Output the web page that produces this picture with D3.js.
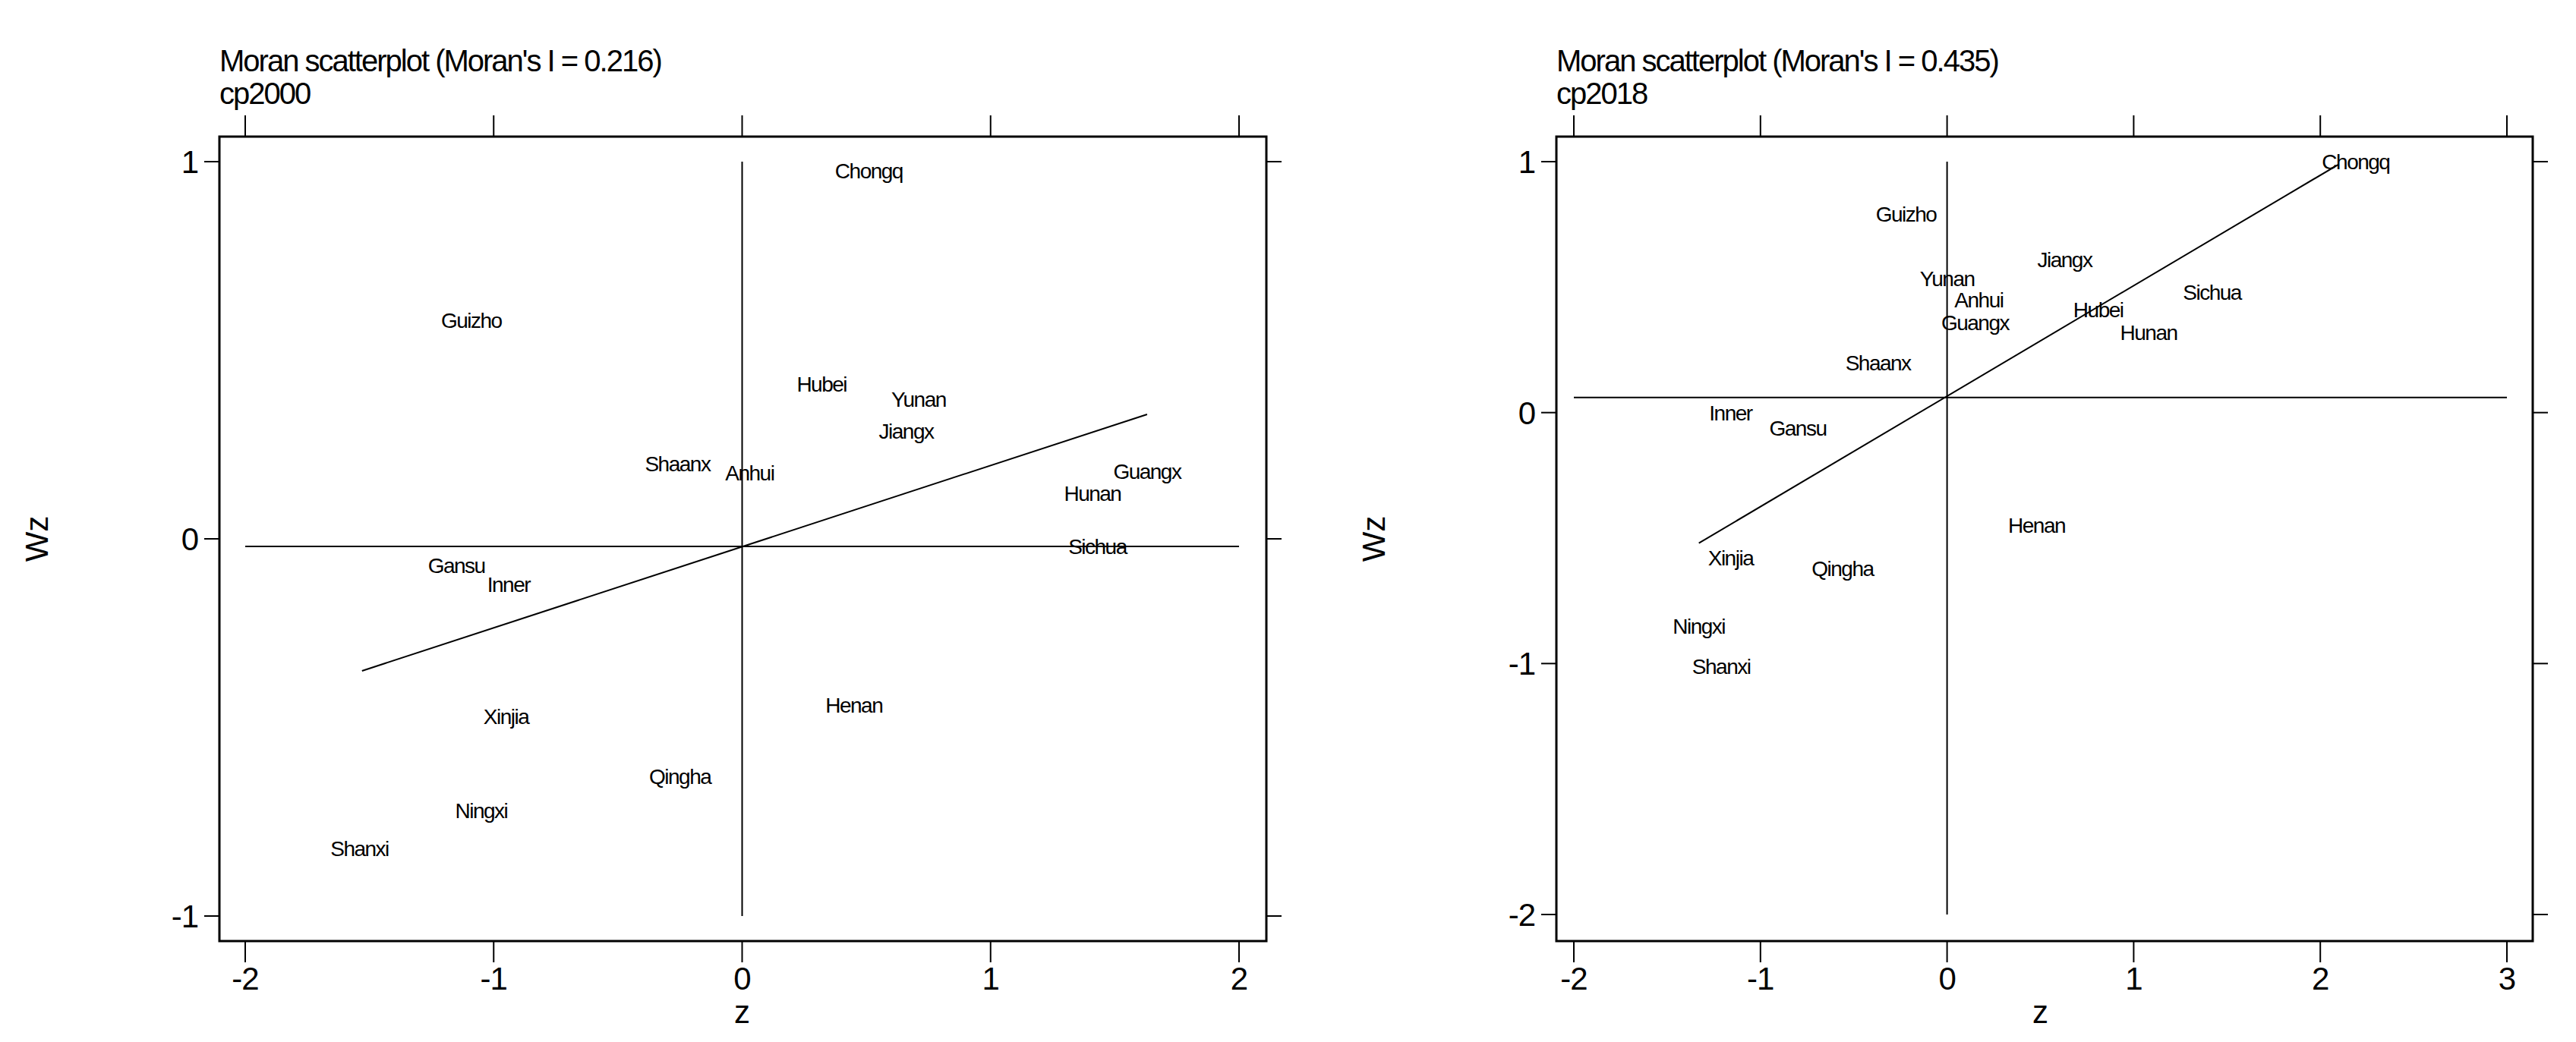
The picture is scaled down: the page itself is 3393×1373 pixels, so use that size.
<!DOCTYPE html>
<html><head><meta charset="utf-8">
<script src="https://cdn.jsdelivr.net/npm/d3@7"></script>
<style>body{margin:0;background:#fff}text{font-family:"Liberation Sans Narrow","Liberation Sans",Arial,sans-serif;fill:#000}</style>
</head><body><div id="figure"></div>
<script>
var names = ["Chongq","Guizho","Hubei","Yunan","Jiangx","Shaanx","Anhui","Guangx","Hunan","Sichua","Gansu","Inner","Xinjia","Henan","Qingha","Ningxi","Shanxi"];
var z2000 = [0.51,-1.09,0.32,0.71,0.66,-0.26,0.03,1.63,1.41,1.43,-1.15,-0.94,-0.95,0.45,-0.25,-1.05,-1.54];
var wz2000 = [0.976,0.58,0.41,0.37,0.285,0.2,0.175,0.18,0.12,-0.02,-0.07,-0.12,-0.47,-0.44,-0.63,-0.72,-0.82];
var z2018 = [2.19,-0.22,0.81,0.0,0.63,-0.37,0.17,0.15,1.08,1.42,-0.8,-1.16,-1.16,0.48,-0.56,-1.33,-1.21];
var wz2018 = [1.0,0.79,0.41,0.535,0.61,0.2,0.45,0.36,0.32,0.48,-0.06,0.0,-0.58,-0.45,-0.62,-0.85,-1.01];

var panels = [
  {title:"Moran scatterplot (Moran's I = 0.216)", sub:"cp2000", z:z2000, wz:wz2000,
   xdom:[-2,2], xticks:[-2,-1,0,1,2], yticks:[-1,0,1], ytop:1, ybot:-1,
   mean:-0.02, fit:[[-1.53,-0.35],[1.63,0.33]],
   box:[289,180,1668,1240], xr:[323,1632], yr:[1207,213], ydom:[-1,1]},
  {title:"Moran scatterplot (Moran's I = 0.435)", sub:"cp2018", z:z2018, wz:wz2018,
   xdom:[-2,3], xticks:[-2,-1,0,1,2,3], yticks:[-2,-1,0,1], ytop:1, ybot:-2,
   mean:0.06, fit:[[-1.33,-0.52],[2.1,0.99]],
   box:[2050,180,3336,1240], xr:[2073,3302], yr:[1205,213], ydom:[-2,1]}
];

var svg = d3.select("#figure").append("svg").attr("width",3393).attr("height",1373);

panels.forEach(function (p) {
  var x = d3.scaleLinear().domain(p.xdom).range(p.xr);
  var y = d3.scaleLinear().domain(p.ydom).range(p.yr);
  var g = svg.append("g");
  var b = p.box;
  g.append("rect").attr("x",b[0]).attr("y",b[1]).attr("width",b[2]-b[0]).attr("height",b[3]-b[1])
    .attr("fill","none").attr("stroke","#000").attr("stroke-width",3);

  // x ticks: bottom and top outside
  var xt = g.selectAll(".xt").data(p.xticks).enter();
  xt.append("line").attr("x1",x).attr("x2",x).attr("y1",b[3]).attr("y2",b[3]+28).attr("stroke","#000").attr("stroke-width",2);
  xt.append("line").attr("x1",x).attr("x2",x).attr("y1",b[1]).attr("y2",b[1]-28).attr("stroke","#000").attr("stroke-width",2);
  xt.append("text").attr("x",x).attr("y",b[3]+64).attr("text-anchor","middle").attr("font-size",42).attr("letter-spacing",-1).text(function(d){return d;});
  // y ticks: left and right outside
  var yt = g.selectAll(".yt").data(p.yticks).enter();
  yt.append("line").attr("y1",y).attr("y2",y).attr("x1",b[0]).attr("x2",b[0]-20).attr("stroke","#000").attr("stroke-width",2);
  yt.append("line").attr("y1",y).attr("y2",y).attr("x1",b[2]).attr("x2",b[2]+20).attr("stroke","#000").attr("stroke-width",2);
  yt.append("text").attr("x",b[0]-28).attr("y",function(d){return y(d)+15;}).attr("text-anchor","end").attr("font-size",42).attr("letter-spacing",-1).text(function(d){return d;});

  g.append("text").attr("x",(p.xr[0]+p.xr[1])/2).attr("y",1348).attr("text-anchor","middle").attr("font-size",42).text("z");
  g.append("text").attr("transform","translate("+(b[0]-226)+","+((b[1]+b[3])/2)+") rotate(-90)")
    .attr("text-anchor","middle").attr("font-size",42).text("Wz");
  g.append("text").attr("x",b[0]).attr("y",94).attr("font-size",40).attr("letter-spacing",-2).text(p.title);
  g.append("text").attr("x",b[0]).attr("y",137).attr("font-size",40).attr("letter-spacing",-2).text(p.sub);

  // reference lines
  g.append("line").attr("x1",x(p.xdom[0])).attr("x2",x(p.xdom[1])).attr("y1",y(p.mean)).attr("y2",y(p.mean)).attr("stroke","#000").attr("stroke-width",2);
  g.append("line").attr("x1",x(0)).attr("x2",x(0)).attr("y1",y(p.ytop)).attr("y2",y(p.ybot)).attr("stroke","#000").attr("stroke-width",2);
  g.append("line").attr("x1",x(p.fit[0][0])).attr("x2",x(p.fit[1][0])).attr("y1",y(p.fit[0][1])).attr("y2",y(p.fit[1][1])).attr("stroke","#000").attr("stroke-width",2);

  g.selectAll(".lab").data(names).enter().append("text")
    .attr("x",function(d,i){return x(p.z[i]);})
    .attr("y",function(d,i){return y(p.wz[i])+10;})
    .attr("text-anchor","middle").attr("font-size",28).attr("letter-spacing",-1.5).text(function(d){return d;});
});
</script></body></html>
